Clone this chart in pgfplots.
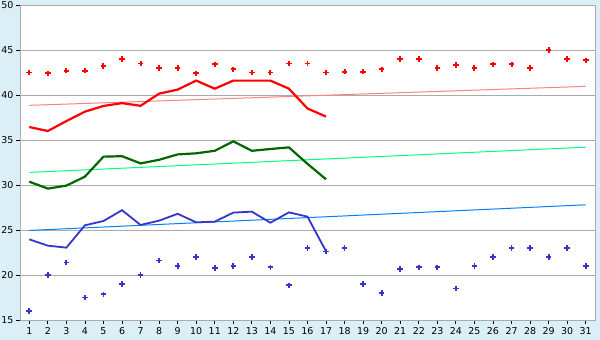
\documentclass[border=0pt]{standalone}
\usepackage{pgfplots}
\pgfplotsset{compat=1.18}
\usepackage{fontspec}
\setmainfont{DejaVu Sans}
\definecolor{bgblue}{HTML}{DAEFF6}
\definecolor{gridgray}{HTML}{ABABAB}
\definecolor{mred}{HTML}{FF0000}
\definecolor{tred}{HTML}{FF8080}
\definecolor{mgreen}{HTML}{006600}
\definecolor{tgreen}{HTML}{00FF80}
\definecolor{mblue}{HTML}{3535C8}
\definecolor{tblue}{HTML}{0080FF}
\begin{document}
\begin{tikzpicture}
\useasboundingbox (-20bp,-20bp) rectangle (580bp,320bp);
\fill[bgblue] (-20bp,-20bp) rectangle (580bp,320bp);
\begin{axis}[at={(0,0)}, anchor=south west, scale only axis,
  width=575bp, height=315bp,
  xmin=0.5, xmax=31.5, ymin=15, ymax=50,
  xtick={1,...,31}, ytick={15,20,...,50},
  ymajorgrids, grid style={color=gridgray, line width=0.9pt},
  axis line style={gridgray, line width=0.9pt},
  tick style={black, line width=0.8pt}, tick align=outside, major tick length=4bp,
  xtick pos=bottom, ytick pos=left,
  axis background/.style={fill=white},
  ticklabel style={font=\fontsize{9.5}{11}\selectfont},
  /pgf/number format/assume math mode=true,
  yticklabel style={xshift=1bp},
  clip=false]
% trend lines
\addplot[tred, line width=1pt] coordinates {(1,38.85) (31,40.96)};
\addplot[tgreen, line width=1pt] coordinates {(1,31.4) (31,34.2)};
\addplot[tblue, line width=1pt] coordinates {(1,24.95) (31,27.8)};
% main lines
\addplot[mred, line width=2.2pt] coordinates {
(1,36.44) (2,36.0) (3,37.1) (4,38.15) (5,38.78) (6,39.1) (7,38.8) (8,40.15) (9,40.6) (10,41.6)
(11,40.7) (12,41.6) (13,41.6) (14,41.6) (15,40.7) (16,38.5) (17,37.6)};
\addplot[mgreen, line width=2.2pt] coordinates {
(1,30.37) (2,29.6) (3,29.93) (4,30.93) (5,33.15) (6,33.2) (7,32.4) (8,32.8) (9,33.4) (10,33.52)
(11,33.8) (12,34.85) (13,33.8) (14,34.0) (15,34.18) (16,32.35) (17,30.63)};
\addplot[mblue, line width=1.8pt] coordinates {
(1,23.96) (2,23.26) (3,23.04) (4,25.52) (5,26.0) (6,27.2) (7,25.56) (8,26.04) (9,26.8) (10,25.85)
(11,25.93) (12,26.93) (13,27.04) (14,25.81) (15,26.96) (16,26.48) (17,22.63)};
% markers
\addplot[only marks, mark=+, mark size=2.8bp, mark options={mred, line width=2pt}] coordinates {
(1,42.5) (2,42.4) (3,42.7) (4,42.7) (5,43.2) (6,44.0) (7,43.5) (8,43.0) (9,43.0) (10,42.4)
(11,43.4) (12,42.85) (13,42.5) (14,42.5) (15,43.5) (16,43.5) (17,42.5) (18,42.6) (19,42.6) (20,42.85)
(21,44.0) (22,44.0) (23,43.0) (24,43.3) (25,43.0) (26,43.4) (27,43.4) (28,43.0) (29,45.0) (30,44.0) (31,43.85)};
\addplot[only marks, mark=+, mark size=2.8bp, mark options={mblue, line width=1.8pt}] coordinates {
(1,16.0) (2,20.0) (3,21.4) (4,17.5) (5,17.85) (6,19.0) (7,20.0) (8,21.6) (9,21.0) (10,22.0)
(11,20.75) (12,21.0) (13,22.0) (14,20.85) (15,18.85) (16,23.0) (17,22.6) (18,23.0) (19,19.0) (20,18.0)
(21,20.65) (22,20.85) (23,20.85) (24,18.5) (25,21.0) (26,22.0) (27,23.0) (28,23.0) (29,22.0) (30,23.0) (31,21.0)};
\end{axis}
\end{tikzpicture}
\end{document}
